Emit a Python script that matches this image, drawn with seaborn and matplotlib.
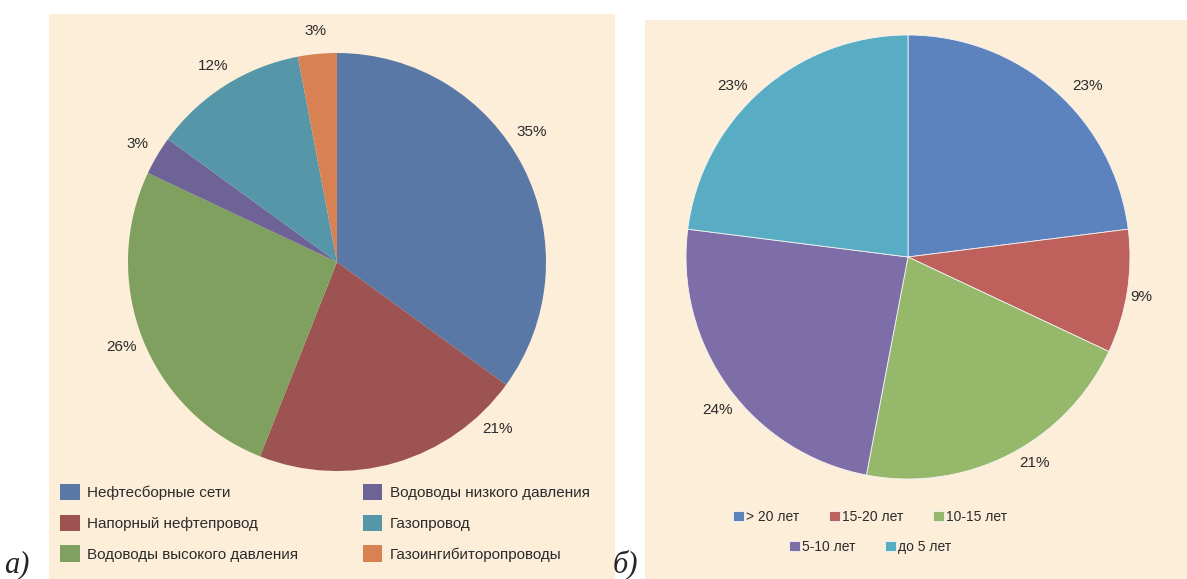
import matplotlib
matplotlib.use("Agg")
import matplotlib.pyplot as plt
from matplotlib.patches import Rectangle
import seaborn as sns

# === Data ===
pipe_labels = ["Нефтесборные сети", "Напорный нефтепровод", "Водоводы высокого давления",
               "Водоводы низкого давления", "Газопровод", "Газоингибиторопроводы"]
pipe_share = [35, 21, 26, 3, 12, 3]
pipe_colors = ["#5A78A5", "#9C5352", "#7FA05E", "#6E6396", "#5597A9", "#D88153"]

age_labels = ["> 20 лет", "15-20 лет", "10-15 лет", "5-10 лет", "до 5 лет"]
age_share = [23, 9, 21, 24, 23]
age_colors = ["#5C83BD", "#BE605C", "#95B86B", "#7E6EA8", "#58ACC4"]

BG = "#FDEEDA"
TXT = "#2b2b2b"

sns.set_theme(style="white")
plt.rcParams["font.family"] = ["Liberation Sans", "DejaVu Sans"]

W, H = 1187, 579
fig = plt.figure(figsize=(W / 100, H / 100), dpi=100)
fig.patch.set_facecolor("white")


def px_box(x0, y0, x1, y1):
    # pixel box (top-left origin) -> figure fraction rect
    return [x0 / W, 1 - y1 / H, (x1 - x0) / W, (y1 - y0) / H]


def panel(x0, y0, x1, y1):
    l, b, w, h = px_box(x0, y0, x1, y1)
    fig.patches.append(Rectangle((l, b), w, h, transform=fig.transFigure,
                                 facecolor=BG, edgecolor="none", zorder=-5))


def pie_axes(cx, cy, r):
    ax = fig.add_axes(px_box(cx - r, cy - r, cx + r, cy + r))
    ax.set_facecolor("none")
    return ax


panel(49, 14, 615, 579)
panel(645, 20, 1187, 579)

# === a) pipeline types ===
ax1 = pie_axes(337, 262, 209)
w1, _, t1 = ax1.pie(pipe_share, colors=sns.color_palette(pipe_colors), startangle=90,
                    counterclock=False, autopct="%d%%", pctdistance=1.11,
                    wedgeprops=dict(linewidth=0),
                    textprops=dict(fontsize=11, color=TXT))
# the two big slices have their labels pushed toward the upper/right side
t1[0].set_position((0.93, 0.62))
t1[1].set_position((0.77, -0.80))
ax1.set_xlim(-1, 1)
ax1.set_ylim(-1, 1)
ax1.set_aspect("equal")
ax1.axis("off")

fig.legend(w1, pipe_labels, ncol=2, loc="upper left",
           bbox_to_anchor=(46 / W, 1 - 470 / H), frameon=False,
           fontsize=11, handlelength=1.3, handleheight=1.3, handletextpad=0.5,
           labelspacing=0.93, columnspacing=4.2, labelcolor=TXT)

# === б) pipeline age ===
ax2 = pie_axes(908, 257, 222)
w2, _, t2 = ax2.pie(age_share, colors=sns.color_palette(age_colors), startangle=90,
                    counterclock=False, autopct="%d%%", pctdistance=1.11,
                    wedgeprops=dict(linewidth=0.6, edgecolor="#f4f4f4"),
                    textprops=dict(fontsize=11, color=TXT))
# labels sit a bit closer to the rim on the diagonals
for t, (dx, dy) in zip(t2, [(0.81, 0.77), (1.05, -0.18), (0.57, -0.93),
                            (-0.86, -0.69), (-0.79, 0.77)]):
    t.set_position((dx, dy))
ax2.set_xlim(-1, 1)
ax2.set_ylim(-1, 1)
ax2.set_aspect("equal")
ax2.axis("off")

leg_kw = dict(frameon=False, fontsize=10, handlelength=0.8, handleheight=0.8,
              handletextpad=0.15, columnspacing=2.1, labelcolor=TXT)
fig.legend(w2[:3], age_labels[:3], ncol=3, loc="center",
           bbox_to_anchor=(870 / W, 1 - 517 / H), **leg_kw)
fig.legend(w2[3:], age_labels[3:], ncol=2, loc="center",
           bbox_to_anchor=(870 / W, 1 - 547 / H), **leg_kw)

# panel letters
fig.text(4 / W, 1 - 572 / H, "а)", fontsize=22, style="italic",
         family=["Liberation Serif", "DejaVu Serif"], va="baseline")
fig.text(613 / W, 1 - 572 / H, "б)", fontsize=22, style="italic",
         family=["Liberation Serif", "DejaVu Serif"], va="baseline")

fig.savefig("out.png", dpi=100, facecolor="white")
plt.close(fig)
